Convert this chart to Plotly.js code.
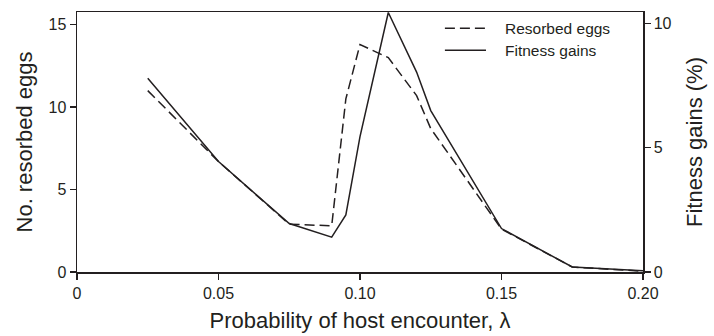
<!DOCTYPE html>
<html>
<head>
<meta charset="utf-8">
<script src="https://cdn.plot.ly/plotly-3.0.1.min.js"></script>
<style>html,body{margin:0;padding:0;background:#fff;}#chart{width:714px;height:336px;}</style>
</head>
<body>
<div id="chart"></div>
<script>
// Probability of host encounter (lambda)
var lambda = [0.025, 0.05, 0.075, 0.09, 0.095, 0.10, 0.11, 0.12, 0.125, 0.15, 0.175, 0.20];
// Number of resorbed eggs (left axis)
var resorbedEggs = [11.0, 6.7, 2.9, 2.8, 10.5, 13.8, 13.0, 10.7, 8.7, 2.6, 0.3, 0.05];
// Fitness gains in % (right axis)
var fitnessGains = [7.8, 4.45, 1.95, 1.4, 2.3, 5.45, 10.45, 8.05, 6.5, 1.75, 0.2, 0.05];
var seriesNames = ['Resorbed eggs', 'Fitness gains'];
var xTickVals = [0, 0.05, 0.10, 0.15, 0.20];
var xTickText = ['0', '0.05', '0.10', '0.15', '0.20'];
var yLeftTicks = [0, 5, 10, 15];
var yRightTicks = [0, 5, 10];

var ink = '#231f20';
var dashStyle = '10px,5px';
var traces = [
  {x: lambda, y: resorbedEggs, type: 'scatter', mode: 'lines', name: seriesNames[0],
   line: {color: ink, width: 1.5, dash: dashStyle}, yaxis: 'y'},
  {x: lambda, y: fitnessGains, type: 'scatter', mode: 'lines', name: seriesNames[1],
   line: {color: ink, width: 1.5}, yaxis: 'y2'}
];
var fam = 'Liberation Sans, Arial, sans-serif';
var titleFont = {size: 22, color: ink, family: fam};
var tickFont = {size: 16, color: ink, family: fam};

// custom legend (paper coordinates)
var legY = [0.9375, 0.853];
var shapes = [
  {type: 'line', xref: 'paper', yref: 'paper', x0: 0.650, x1: 0.7226, y0: legY[0], y1: legY[0],
   line: {color: ink, width: 1.5, dash: dashStyle}},
  {type: 'line', xref: 'paper', yref: 'paper', x0: 0.650, x1: 0.7226, y0: legY[1], y1: legY[1],
   line: {color: ink, width: 1.5}}
];
var annotations = seriesNames.map(function (n, i) {
  return {text: n, xref: 'paper', yref: 'paper', x: 0.7527, y: legY[i], xanchor: 'left', yanchor: 'middle',
          showarrow: false, font: {size: 15.5, color: ink, family: fam}};
});

var layout = {
  width: 714, height: 336,
  margin: {l: 77, r: 71, t: 12, b: 64},
  paper_bgcolor: '#fff', plot_bgcolor: '#fff',
  font: {family: fam, color: ink},
  showlegend: false,
  shapes: shapes,
  annotations: annotations,
  xaxis: {range: [0, 0.2], tickvals: xTickVals, ticktext: xTickText, ticks: 'outside', ticklen: 6,
          tickcolor: ink, tickwidth: 1.3, showline: true, linecolor: ink, linewidth: 1.5, mirror: true,
          showgrid: false, zeroline: false, tickfont: tickFont,
          title: {text: 'Probability of host encounter, λ', font: titleFont, standoff: 12}},
  yaxis: {range: [0, 15.77], tickvals: yLeftTicks, ticks: 'outside', ticklen: 6, tickcolor: ink, tickwidth: 1.3,
          showline: true, linecolor: ink, linewidth: 1.5, showgrid: false, zeroline: false,
          tickfont: tickFont,
          title: {text: 'No. resorbed eggs', font: titleFont, standoff: 10}},
  yaxis2: {range: [0, 10.47], tickvals: yRightTicks, overlaying: 'y', side: 'right', ticks: 'outside', ticklen: 6,
           tickcolor: ink, tickwidth: 1.3, showline: true, linecolor: ink, linewidth: 1.5, showgrid: false, zeroline: false,
           tickfont: tickFont,
           title: {text: 'Fitness gains (%)', font: titleFont, standoff: 16}}
};
Plotly.newPlot('chart', traces, layout, {staticPlot: true, displayModeBar: false});
</script>
</body>
</html>
